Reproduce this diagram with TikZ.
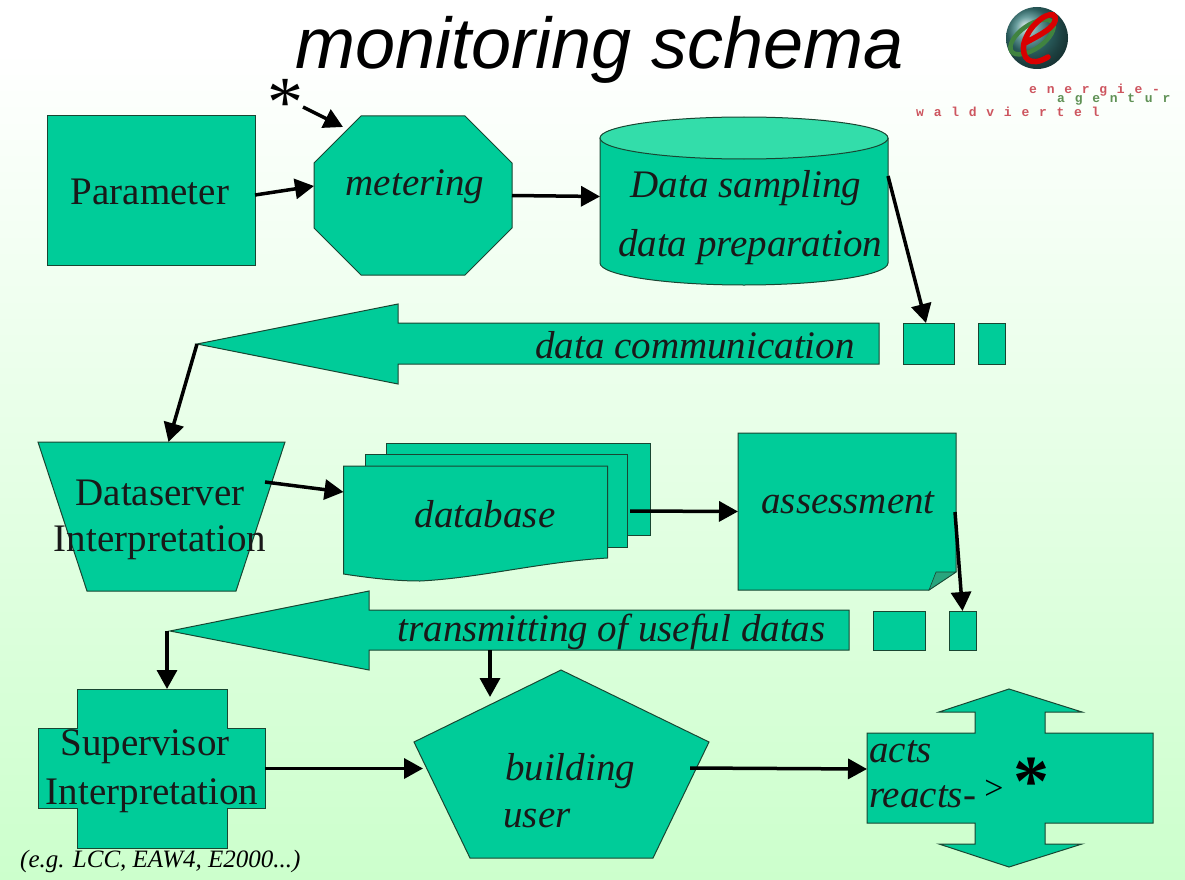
\documentclass[tikz,border=0pt]{standalone}
\usepackage{fontspec}
\setmainfont{Liberation Serif}
\newfontfamily\titlefont{Liberation Sans}
\newfontfamily\logofont[LetterSpace=75]{Liberation Mono}
\usetikzlibrary{arrows.meta}

\definecolor{panelgreen}{RGB}{0,204,153}
\definecolor{lidgreen}{RGB}{51,221,170}
\definecolor{flapgreen}{RGB}{40,165,125}
\definecolor{edgegreen}{RGB}{25,70,50}
\definecolor{pagegreen}{RGB}{204,255,204}
\definecolor{logored}{RGB}{205,85,95}
\definecolor{logogreen}{RGB}{95,145,85}

\tikzset{
	panel/.style={draw=edgegreen,fill=panelgreen,line width=1pt},
	hull/.style={inner sep=0pt,outer sep=0pt,minimum width=#1},
	rectbox/.style={panel,inner sep=0pt,outer sep=0pt},
	plaintext/.style={inner sep=0pt,text=black!90,font=\fontsize{39}{39}\selectfont},
	slanttext/.style={inner sep=0pt,text=black!90,font=\fontsize{39}{39}\selectfont\itshape},
	logotext/.style={inner sep=0pt,font=\logofont\bfseries\fontsize{13}{13}\selectfont},
	link/.style={->,line width=3.5pt,black},
}

\begin{document}
\begin{tikzpicture}[x=1pt,y=-1pt,>={Triangle[length=19pt,width=20pt]}]

\useasboundingbox (0,0) rectangle (1185,880);
\fill[white] (0,0) rectangle (1185,880);
\shade[top color=white,bottom color=pagegreen] (0,50) rectangle (1185,880);

\node[font=\titlefont\itshape\fontsize{72}{72}\selectfont,inner sep=0pt] (title) at (600,50) {monitoring schema};

% logo
\shade[ball color=teal!55!gray] (1037,38) circle (31pt);
\draw[line width=4.5pt,green!35!black!75,rotate around={35:(1032,37)}] (1032,37) ellipse (25pt and 12pt);
\draw[line width=5.5pt,red!85!black,line cap=round] (1025,43) .. controls (1040,35) and (1058,26) .. (1055,17) .. controls (1052,9) and (1030,22) .. (1024,43) .. controls (1021,58) and (1030,68) .. (1048,57);
\node[logotext,text=logored,anchor=west] (logoa) at (1029,90) {energie-};
\node[logotext,text=logogreen,anchor=west] (logob) at (1057,100) {agentur};
\node[logotext,text=logored,anchor=west] (logoc) at (916,112) {waldviertel};

% first row
\node[rectbox,minimum width=208pt,minimum height=149pt] (parameter) at (151,190.5) {};
\node[plaintext] (parametertext) at (150,192) {Parameter};

\draw[panel] (361,116) -- (465,116) -- (512,163) -- (512,228) -- (465,275) -- (361,275) -- (314,228) -- (314,163) -- cycle;
\node[hull=198pt,minimum height=159pt] (metering) at (413,195.5) {};
\node[slanttext] (meteringtext) at (415,187) {metering};

\node[font=\fontsize{72}{72}\selectfont,inner sep=0pt] (star) at (285,103) {*};

\draw[panel] (600,138) -- (600,263) arc[start angle=180,end angle=0,x radius=144,y radius=22] -- (888,138);
\draw[panel,fill=lidgreen] (744,138) ellipse (144pt and 21pt);
\node[hull=288pt,minimum height=168pt] (sampling) at (744,201) {};
\node[slanttext] (samplingtext) at (746,188) {Data sampling};
\node[slanttext] (preparationtext) at (750,247) {data preparation};

% data communication
\draw[panel] (197,344) -- (398,304) -- (398,323) -- (879,323) -- (879,364) -- (398,364) -- (398,384) -- cycle;
\node[hull=682pt,minimum height=80pt] (communication) at (538,344) {};
\node[slanttext] (communicationtext) at (695,345) {data communication};
\node[rectbox,minimum width=51pt,minimum height=41pt] (packeta) at (928.5,343.5) {};
\node[rectbox,minimum width=27pt,minimum height=41pt] (packetb) at (991.5,343.5) {};

% second row
\draw[panel] (38,442) -- (285,442) -- (236,591) -- (87,591) -- cycle;
\node[hull=247pt,minimum height=149pt] (server) at (161.5,516.5) {};
\node[plaintext] (servertext) at (160,493) {Dataserver};
\node[plaintext] (serverlower) at (160,543) {Interpretation};

\draw[panel] (386,443) -- (650,443) -- (650,535) -- (386,535) -- cycle;
\draw[panel] (365,454) -- (627.5,454) -- (627.5,547) -- (365,547) -- cycle;
\draw[panel] (343.5,466) -- (607.5,466) -- (607.5,558) .. controls (540,562) and (480,578) .. (420,581) .. controls (395,581) and (370,578) .. (343.5,574) -- cycle;
\node[hull=306.5pt,minimum height=138pt] (database) at (496.75,512) {};
\node[slanttext] (databasetext) at (485,514) {database};

\draw[panel] (738,433) -- (956,433) -- (956,572) -- (929,590) -- (738,590) -- cycle;
\draw[panel,fill=flapgreen,line width=.6pt] (929,590) -- (936,572) -- (956,572) -- cycle;
\node[hull=218pt,minimum height=157pt] (assessment) at (847,511.5) {};
\node[slanttext] (assessmenttext) at (848,503) {assessment};

% transmitting
\draw[panel] (170,631) -- (369,591) -- (369,610) -- (849,610) -- (849,650) -- (369,650) -- (369,670) -- cycle;
\node[hull=679pt,minimum height=79pt] (transmitting) at (509.5,630.5) {};
\node[slanttext] (transmittingtext) at (611.5,632) {transmitting of useful datas};
\node[rectbox,minimum width=52pt,minimum height=39pt] (packetc) at (899,630.5) {};
\node[rectbox,minimum width=27pt,minimum height=39pt] (packetd) at (962.5,630.5) {};

% third row
\draw[panel] (77,689) -- (227,689) -- (227,728) -- (265,728) -- (265,808) -- (227,808) -- (227,848) -- (77,848) -- (77,808) -- (38,808) -- (38,728) -- (77,728) -- cycle;
\node[hull=227pt,minimum height=159pt] (supervisor) at (151.5,768.5) {};
\node[plaintext] (supervisortext) at (145,747) {Supervisor};
\node[plaintext] (supervisorlower) at (152,796) {Interpretation};

\draw[panel] (561,670) -- (709,742) -- (653,858) -- (470,858) -- (414,742) -- cycle;
\node[hull=295pt,minimum height=188pt] (user) at (561.5,764) {};
\node[slanttext] (usertext) at (570,771) {building};
\node[slanttext] (userlower) at (537,819) {user};

\draw[panel] (1009,689) -- (1082,712) -- (1045,712) -- (1045,733) -- (1153,733) -- (1153,823) -- (1045,823) -- (1045,844) -- (1082,844) -- (1009,867) -- (939,844) -- (975,844) -- (975,823) -- (867,823) -- (867,733) -- (975,733) -- (975,712) -- (939,712) -- cycle;
\node[hull=286pt,minimum height=178pt] (reaction) at (1010,778) {};
\node[slanttext,anchor=west] (reactiontext) at (869,752) {acts};
\node[slanttext,anchor=west] (reactionlower) at (869,797) {reacts-};
\node[font=\fontsize{34}{34}\selectfont,inner sep=0pt] (reactionsign) at (994,790) {>};
\node[font=\bfseries\fontsize{72}{72}\selectfont,inner sep=0pt] (reactionstar) at (1031,782) {*};

\node[font=\itshape\fontsize{25}{25}\selectfont,inner sep=0pt,anchor=west] (example) at (20,861) {(e.g. LCC, EAW4, E2000...)};

% connectors
\draw[link] (parameter.east) ++(0,4.5) -- ([yshift=9.5pt]metering.west);
\draw[link] ([xshift=18pt,yshift=-4pt]star.center) -- ([xshift=29pt,yshift=-11pt]metering.north west);
\draw[link] (metering.east) -- ([yshift=4.5pt]sampling.west);
\draw[link] ([yshift=25pt]sampling.east) -- ([xshift=-2.5pt]packeta.north);
\draw[link] (communication.west) -- ([xshift=7pt]server.north);
\draw[link] ([xshift=-20pt,yshift=34.5pt]server.east) -- ([yshift=20pt]database.west);
\draw[link] ([xshift=-20pt,yshift=1pt]database.east) -- (assessment.west);
\draw[link] ([xshift=-1pt,yshift=-.5pt]assessment.east) -- (packetd.north);
\draw[link] ([xshift=-3pt]transmitting.west) -- ([xshift=15.5pt]supervisor.north);
\draw[link] ([xshift=-19.5pt,yshift=20pt]transmitting.south) -- ([xshift=-71.5pt,yshift=-27pt]user.north);
\draw[link] (supervisor.east) -- ([xshift=9pt,yshift=-4.5pt]user.west);
\draw[link] ([xshift=-19pt,yshift=-4pt]user.east) -- ([yshift=9pt]reaction.west);

\end{tikzpicture}
\end{document}
